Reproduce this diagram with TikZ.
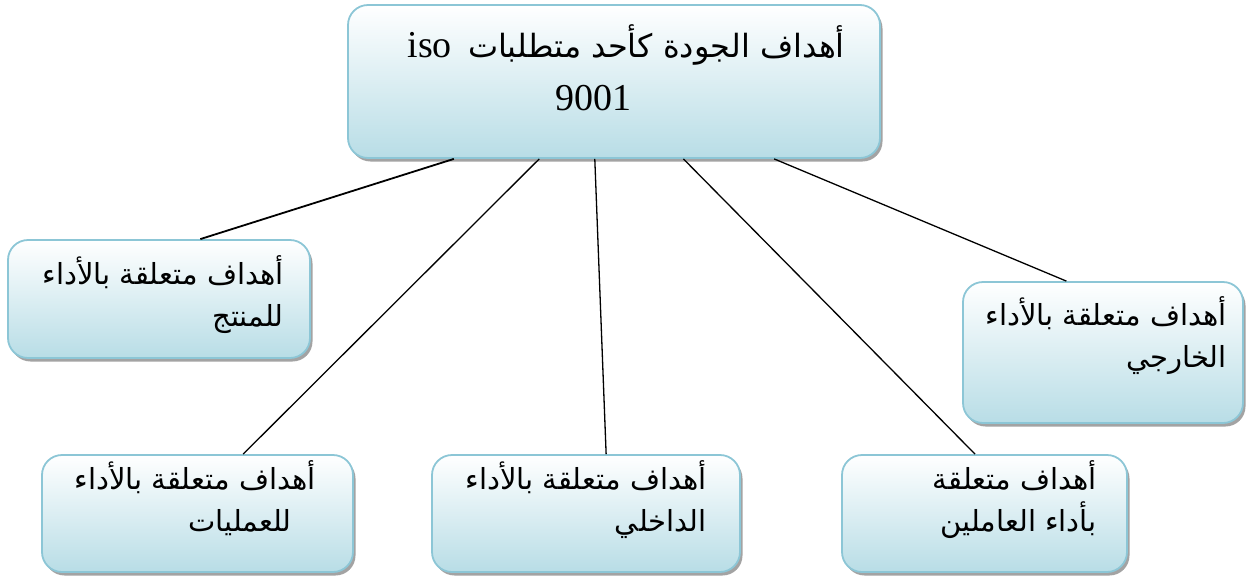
\documentclass[tikz,border=0pt]{standalone}
\usepackage{fontspec}
\setmainfont{Liberation Serif}
\newfontfamily\arabicfont[Script=Arabic]{DejaVu Sans}
\TeXXeTstate=1
\usetikzlibrary{shadows,calc}
\definecolor{boxtop}{RGB}{255,255,255}
\definecolor{boxbot}{RGB}{184,221,230}
\definecolor{boxline}{RGB}{140,198,214}
\tikzset{
  box/.style={rectangle, rounded corners=20pt, draw=boxline, line width=1.8pt,
    top color=boxtop, bottom color=boxbot,
    drop shadow={shadow xshift=2.5pt, shadow yshift=-3.5pt, fill=black!45, opacity=0.8}},
  lbl/.style={align=right, inner sep=0pt, font=\arabicfont\fontsize{29}{42}\selectfont},
  conn/.style={line width=1.3pt, black}
}
\begin{document}
\begin{tikzpicture}[x=1pt,y=-1pt]
\useasboundingbox (0,0) rectangle (1248,579);
% boxes
\node[box, minimum width=532pt, minimum height=153pt] (top) at (614,81.5) {};
\node[box, minimum width=302pt, minimum height=118pt] (prod) at (159,299) {};
\node[box, minimum width=280pt, minimum height=141pt] (ext) at (1103,352.5) {};
\node[box, minimum width=311pt, minimum height=117pt] (ops) at (197.5,513.5) {};
\node[box, minimum width=308pt, minimum height=117pt] (int) at (586,513.5) {};
\node[box, minimum width=285pt, minimum height=117pt] (emp) at (984.5,513.5) {};
% connectors
\draw[conn, line width=1.8pt] ($(top.south west)!0.20!(top.south east)$) -- ($(prod.north west)!0.636!(prod.north east)$);
\draw[conn] ($(top.south west)!0.36!(top.south east)$) -- ($(ops.north west)!0.646!(ops.north east)$);
\draw[conn] ($(top.south west)!0.464!(top.south east)$) -- ($(int.north west)!0.565!(int.north east)$);
\draw[conn] ($(top.south west)!0.63!(top.south east)$) -- ($(emp.north west)!0.467!(emp.north east)$);
\draw[conn] ($(top.south west)!0.80!(top.south east)$) -- ($(ext.north west)!0.37!(ext.north east)$);
% texts
\node[anchor=base east, inner sep=0pt] (toptxt) at (845,57)
  {\arabicfont\fontsize{32}{36}\selectfont\beginR أهداف الجودة كأحد متطلبات \rmfamily\fontsize{38}{40}\selectfont\beginL iso\hspace{6pt}\endL\endR};
\node[anchor=base west, inner sep=0pt, font=\fontsize{38}{40}\selectfont] (toptxt2) at (555,110) {9001};
\node[lbl, anchor=north east] (prodtxt) at (284,255) {\beginR أهداف متعلقة بالأداء\endR\\\beginR للمنتج\endR};
\node[lbl, anchor=north east] (opstxt) at (316,460) {\beginR أهداف متعلقة بالأداء\endR\\\beginR للعمليات\endR\hspace*{24pt}};
\node[lbl, anchor=north east] (inttxt) at (707,460) {\beginR أهداف متعلقة بالأداء\endR\\\beginR الداخلي\endR};
\node[lbl, anchor=north east] (emptxt) at (1097,460) {\beginR أهداف متعلقة\endR\\\beginR بأداء العاملين\endR};
\node[lbl, anchor=north east] (exttxt) at (1227,296) {\beginR أهداف متعلقة بالأداء\endR\\\beginR الخارجي\endR};
\end{tikzpicture}
\end{document}
